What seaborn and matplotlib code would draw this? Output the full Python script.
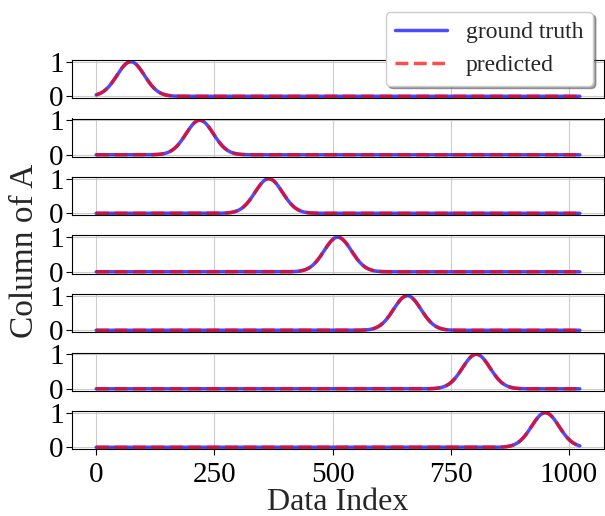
import numpy as np
import pandas as pd
import matplotlib
matplotlib.use("Agg")
import matplotlib.pyplot as plt
import seaborn as sns

# ---- data ----
n_points = 1024
peak_centers = [73, 219, 365, 511, 658, 804, 950]   # data index of each column's peak
peak_width = 29                                     # gaussian width (std)
peak_height = 1.0
series_labels = ["ground truth", "predicted"]
y_ticks = [0, 1]
x_ticks = [0, 250, 500, 750, 1000]
x_label = "Data Index"
y_label = "Column of A"

sns.set_style("whitegrid")
plt.rcParams.update({
    "font.family": ["Liberation Serif", "DejaVu Serif"],
    "mathtext.fontset": "stix",
    "axes.edgecolor": "black",
    "axes.linewidth": 0.8,
    "xtick.bottom": True,
    "ytick.left": True,
    "xtick.major.size": 4,
    "ytick.major.size": 4,
    "xtick.color": "black",
    "ytick.color": "black",
    "xtick.major.width": 0.8,
    "ytick.major.width": 0.8,
    "grid.color": "0.8",
    "grid.linewidth": 0.8,
})

W, H = 605, 516
fig, axes = plt.subplots(len(peak_centers), 1, sharex=True, figsize=(W / 100, H / 100), dpi=100)
fig.subplots_adjust(left=72 / W, right=604 / W, top=1 - 60 / H, bottom=1 - 449 / H,
                    hspace=20.5 / 38)

idx = np.arange(n_points)
for ax, c in zip(axes, peak_centers):
    truth = peak_height * np.exp(-0.5 * ((idx - c) / peak_width) ** 2)
    pred = truth.copy()
    df = pd.DataFrame({"x": idx, "truth": truth, "pred": pred})
    sns.lineplot(data=df, x="x", y="truth", ax=ax, color="blue", alpha=0.7,
                 linewidth=2.5, label=series_labels[0], legend=False)
    sns.lineplot(data=df, x="x", y="pred", ax=ax, color="red", alpha=0.7,
                 linewidth=2.5, linestyle="--", label=series_labels[1], legend=False)
    ax.set_yticks(y_ticks)
    ax.set_yticklabels([str(t) for t in y_ticks], fontsize=21)
    ax.set_ylabel("")
    ax.set_xlabel("")
    ax.grid(True)
    ax.tick_params(axis="y", pad=2)
    for s in ax.spines.values():
        s.set_visible(True)
        s.set_color("black")
        s.set_linewidth(0.8)

for ax in axes[:-1]:
    ax.tick_params(axis="x", bottom=False, labelbottom=False)

axes[-1].set_xticks(x_ticks)
axes[-1].set_xticklabels([str(t) for t in x_ticks], fontsize=21)
axes[-1].tick_params(axis="x", pad=5)
axes[-1].set_xlabel("")

fig.text(338 / W, 1 - 510 / H, x_label, fontsize=23, ha="center", va="baseline")
fig.text(25 / W, 1 - 251 / H, y_label, rotation=90, fontsize=24, ha="center", va="center")

handles, labels = axes[0].get_legend_handles_labels()
fig.legend(handles, labels, loc="upper right", bbox_to_anchor=(593 / W, 1 - 12 / H),
           borderaxespad=0, fontsize=17, shadow=True, fancybox=True, framealpha=1,
           edgecolor="0.8", handlelength=2.2, handletextpad=0.8)

fig.savefig("out.png", dpi=100)
